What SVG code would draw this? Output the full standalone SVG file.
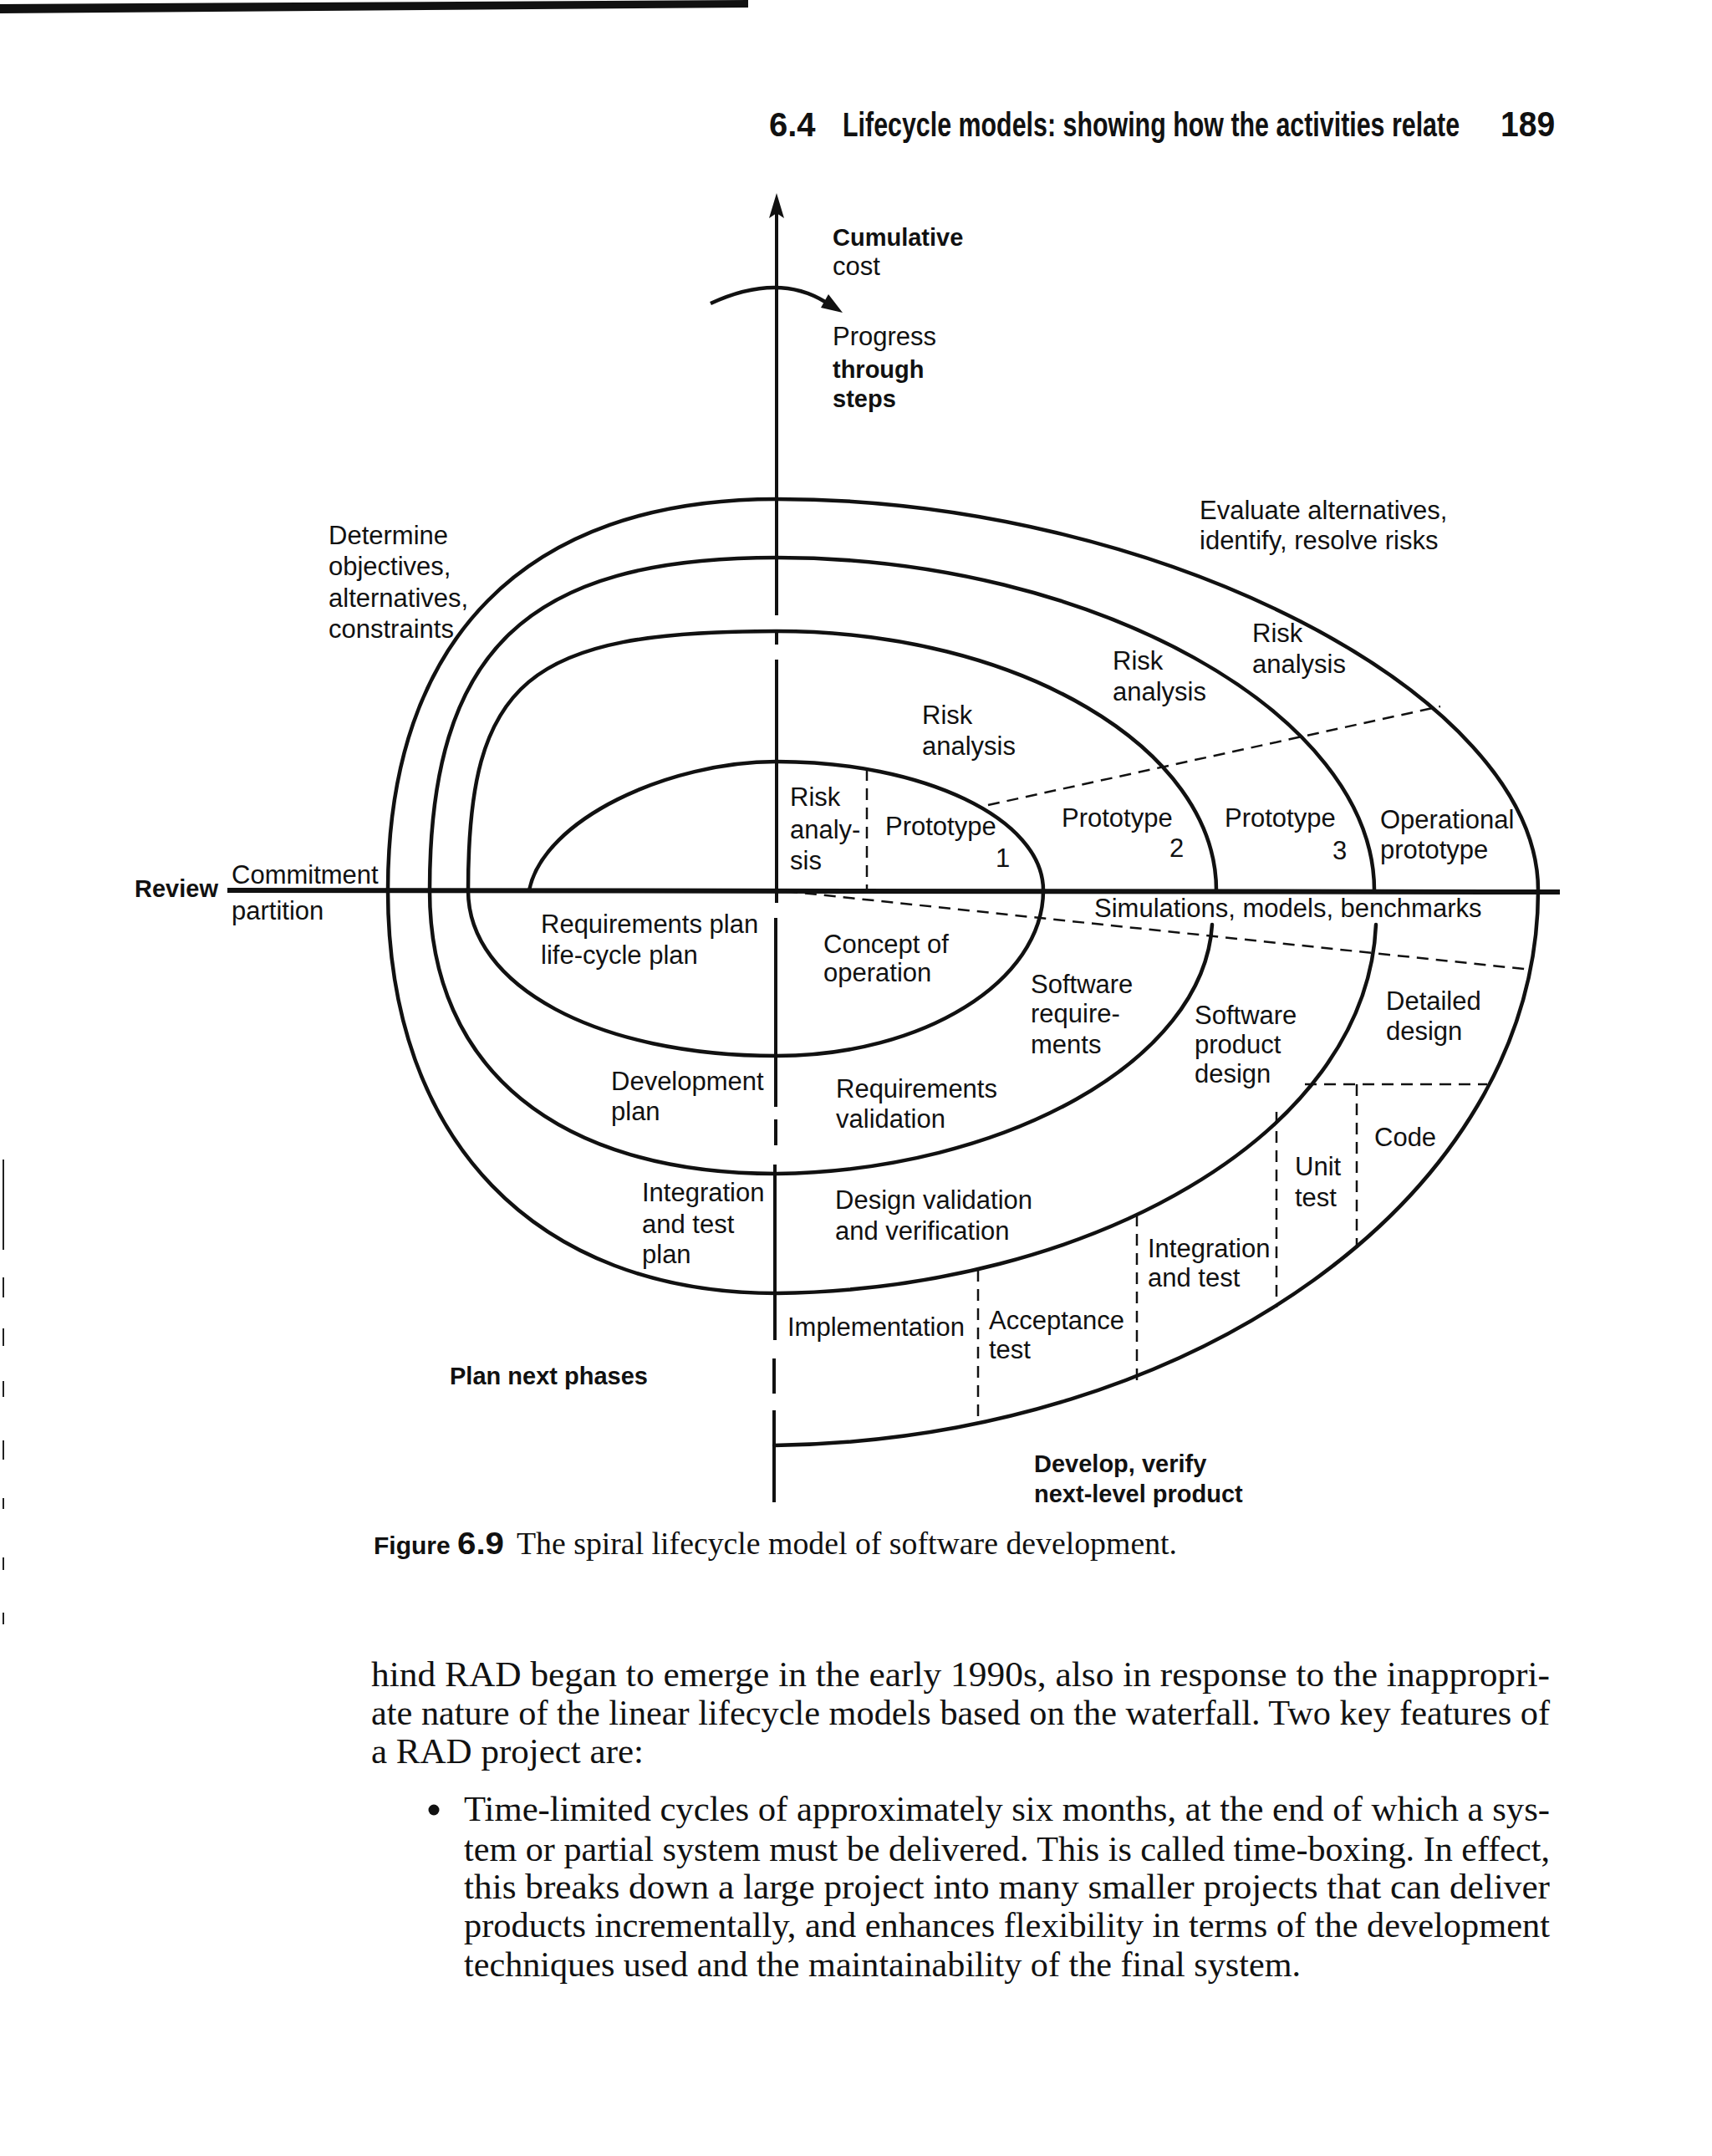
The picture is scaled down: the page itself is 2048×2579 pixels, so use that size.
<svg xmlns="http://www.w3.org/2000/svg" width="2048" height="2579" viewBox="0 0 2048 2579">
<style>
.lbl{font-family:"Liberation Sans",Arial,sans-serif;font-size:31px;fill:#111}
.b{font-family:"Liberation Sans",Arial,sans-serif;font-size:29px;font-weight:bold;fill:#111}
.body{font-family:"Liberation Serif","Times New Roman",serif;font-size:43px;fill:#111}
.sp{fill:none;stroke:#111;stroke-width:4.5;stroke-linecap:round;stroke-linejoin:round}
.ax{fill:none;stroke:#111;stroke-width:4}
.dash{fill:none;stroke:#111;stroke-width:2.5;stroke-dasharray:14 9}
</style>
<rect width="2048" height="2579" fill="#fff"/>
<polygon points="0,5 895,0 895,9 0,16" fill="#111"/>
<g id="edge-marks" stroke="#222" stroke-width="2">
<line x1="4" y1="1387" x2="4" y2="1495"/><line x1="4" y1="1528" x2="4" y2="1552"/>
<line x1="4" y1="1589" x2="4" y2="1610"/><line x1="4" y1="1652" x2="4" y2="1671"/>
<line x1="4" y1="1723" x2="4" y2="1746"/><line x1="4" y1="1792" x2="4" y2="1805"/>
<line x1="4" y1="1863" x2="4" y2="1878"/><line x1="4" y1="1929" x2="4" y2="1943"/>
</g>
<g id="header">
<text x="920" y="163" class="b" style="font-size:40px">6.4</text>
<text transform="translate(1008,163) scale(0.76,1)" x="0" y="0" class="b" style="font-size:40px">Lifecycle models: showing how the activities relate</text>
<text transform="translate(1795,163) scale(0.93,1)" x="0" y="0" class="b" style="font-size:42px">189</text>
</g>
<g id="connectors">
<g id="axes">
<path class="ax" d="M929,252 V736 M929,753 V771 M929,789 V1080 M928,1098 V1324 M928,1339 V1370 M927,1393 V1603 M926,1625 V1667 M926,1687 V1797"/>
<polygon points="929,231 920,261 929,255 938,261" fill="#111"/>
<path d="M272,1065 L1866,1067" fill="none" stroke="#111" stroke-width="6"/>
<path d="M850,363 Q930,326 987,361" fill="none" stroke="#111" stroke-width="4.5"/>
<polygon points="1008,374 982,368 991,352" fill="#111"/>
</g>
<g id="spiral">
<path class="sp" d="M633,1065 C650,980 800,911 929,911 C1104,911 1248,979 1248,1065 C1248,1174 1104,1263 929,1263 C715,1263 560,1180 560,1065 C560,814 630,755 929,755 C1218,755 1455,895 1455,1065"/>
<path class="sp" d="M1450,1106 C1440,1270 1200,1400 929,1404 C668,1404 514,1279 514,1065 C514,778 630,667 929,667 C1308,667 1644,854 1644,1065"/>
<path class="sp" d="M1646,1106 C1635,1360 1300,1542 929,1547 C641,1547 464,1364 464,1065 C464,765 628,597 929,597 C1385,597 1840,831 1840,1065 C1840,1430 1429,1722 926,1729"/>
</g>
<g id="dashed">
<line class="dash" x1="1182" y1="963" x2="1723" y2="845"/>
<line class="dash" x1="940" y1="1066" x2="1832" y2="1160"/>
<line class="dash" x1="1037" y1="920" x2="1037" y2="1063"/>
<line class="dash" x1="1561" y1="1297" x2="1779" y2="1297"/>
<line class="dash" x1="1623" y1="1297" x2="1623" y2="1493"/>
<line class="dash" x1="1527" y1="1330" x2="1527" y2="1564"/>
<line class="dash" x1="1360" y1="1453" x2="1360" y2="1652"/>
<line class="dash" x1="1170" y1="1519" x2="1170" y2="1703"/>
</g>
</g>
<g id="axis-labels">
<text x="996" y="294" class="b">Cumulative</text>
<text x="996" y="329" class="lbl">cost</text>
<text x="996" y="413" class="lbl">Progress</text>
<text x="996" y="452" class="b">through</text>
<text x="996" y="487" class="b">steps</text>
<text x="161" y="1073" class="b">Review</text>
<text x="277" y="1057" class="lbl">Commitment</text>
<text x="277" y="1100" class="lbl">partition</text>
</g>
<g id="quadrant-labels">
<g id="q-determine"><text x="393" y="651" class="lbl">Determine</text><text x="393" y="688" class="lbl">objectives,</text><text x="393" y="726" class="lbl">alternatives,</text><text x="393" y="763" class="lbl">constraints</text></g>
<g id="q-evaluate"><text x="1435" y="621" class="lbl">Evaluate alternatives,</text><text x="1435" y="657" class="lbl">identify, resolve risks</text></g>
<g id="q-plan"><text x="538" y="1656" class="b">Plan next phases</text></g>
<g id="q-develop"><text x="1237" y="1761" class="b">Develop, verify</text><text x="1237" y="1797" class="b">next-level product</text></g>
</g>
<g id="steps">
<g id="risk4"><text x="1498" y="768" class="lbl">Risk</text><text x="1498" y="805" class="lbl">analysis</text></g>
<g id="risk3"><text x="1331" y="801" class="lbl">Risk</text><text x="1331" y="838" class="lbl">analysis</text></g>
<g id="risk2"><text x="1103" y="866" class="lbl">Risk</text><text x="1103" y="903" class="lbl">analysis</text></g>
<g id="risk1"><text x="945" y="964" class="lbl">Risk</text><text x="945" y="1003" class="lbl">analy-</text><text x="945" y="1040" class="lbl">sis</text></g>
<g id="proto1"><text x="1059" y="999" class="lbl">Prototype</text><text x="1191" y="1037" class="lbl">1</text></g>
<g id="proto2"><text x="1270" y="989" class="lbl">Prototype</text><text x="1399" y="1025" class="lbl">2</text></g>
<g id="proto3"><text x="1465" y="989" class="lbl">Prototype</text><text x="1594" y="1028" class="lbl">3</text></g>
<g id="opproto"><text x="1651" y="991" class="lbl">Operational</text><text x="1651" y="1027" class="lbl">prototype</text></g>
<g id="sim"><text x="1309" y="1097" class="lbl">Simulations, models, benchmarks</text></g>
<g id="reqplan"><text x="647" y="1116" class="lbl">Requirements plan</text><text x="647" y="1153" class="lbl">life-cycle plan</text></g>
<g id="concept"><text x="985" y="1140" class="lbl">Concept of</text><text x="985" y="1174" class="lbl">operation</text></g>
<g id="swreq"><text x="1233" y="1188" class="lbl">Software</text><text x="1233" y="1223" class="lbl">require-</text><text x="1233" y="1260" class="lbl">ments</text></g>
<g id="swprod"><text x="1429" y="1225" class="lbl">Software</text><text x="1429" y="1260" class="lbl">product</text><text x="1429" y="1295" class="lbl">design</text></g>
<g id="detailed"><text x="1658" y="1208" class="lbl">Detailed</text><text x="1658" y="1244" class="lbl">design</text></g>
<g id="devplan"><text x="731" y="1304" class="lbl">Development</text><text x="731" y="1340" class="lbl">plan</text></g>
<g id="reqval"><text x="1000" y="1313" class="lbl">Requirements</text><text x="1000" y="1349" class="lbl">validation</text></g>
<g id="code"><text x="1644" y="1371" class="lbl">Code</text></g>
<g id="unittest"><text x="1549" y="1406" class="lbl">Unit</text><text x="1549" y="1443" class="lbl">test</text></g>
<g id="itplan"><text x="768" y="1437" class="lbl">Integration</text><text x="768" y="1475" class="lbl">and test</text><text x="768" y="1511" class="lbl">plan</text></g>
<g id="desval"><text x="999" y="1446" class="lbl">Design validation</text><text x="999" y="1483" class="lbl">and verification</text></g>
<g id="inttest"><text x="1373" y="1504" class="lbl">Integration</text><text x="1373" y="1539" class="lbl">and test</text></g>
<g id="acctest"><text x="1183" y="1590" class="lbl">Acceptance</text><text x="1183" y="1625" class="lbl">test</text></g>
<g id="impl"><text x="942" y="1598" class="lbl">Implementation</text></g>
</g>
<g id="caption">
<text x="447" y="1859" class="b" style="font-size:30px">Figure</text>
<text x="547" y="1859" class="b" style="font-size:36px" textLength="56" lengthAdjust="spacingAndGlyphs">6.9</text>
<text x="618" y="1859" class="body" style="font-size:38px" textLength="790" lengthAdjust="spacingAndGlyphs">The spiral lifecycle model of software development.</text>
</g>
<g id="body-text">
<text x="444" y="2017" class="body" textLength="1410" lengthAdjust="spacingAndGlyphs">hind RAD began to emerge in the early 1990s, also in response to the inappropri-</text>
<text x="444" y="2063" class="body" textLength="1410" lengthAdjust="spacingAndGlyphs">ate nature of the linear lifecycle models based on the waterfall. Two key features of</text>
<text x="444" y="2109" class="body" textLength="326" lengthAdjust="spacingAndGlyphs">a RAD project are:</text>
<circle cx="519" cy="2165" r="6.5" fill="#111"/>
<text x="555" y="2178" class="body" textLength="1299" lengthAdjust="spacingAndGlyphs">Time-limited cycles of approximately six months, at the end of which a sys-</text>
<text x="555" y="2226" class="body" textLength="1299" lengthAdjust="spacingAndGlyphs">tem or partial system must be delivered. This is called time-boxing. In effect,</text>
<text x="555" y="2271" class="body" textLength="1299" lengthAdjust="spacingAndGlyphs">this breaks down a large project into many smaller projects that can deliver</text>
<text x="555" y="2317" class="body" textLength="1299" lengthAdjust="spacingAndGlyphs">products incrementally, and enhances flexibility in terms of the development</text>
<text x="555" y="2364" class="body" textLength="1001" lengthAdjust="spacingAndGlyphs">techniques used and the maintainability of the final system.</text>
</g>
</svg>
